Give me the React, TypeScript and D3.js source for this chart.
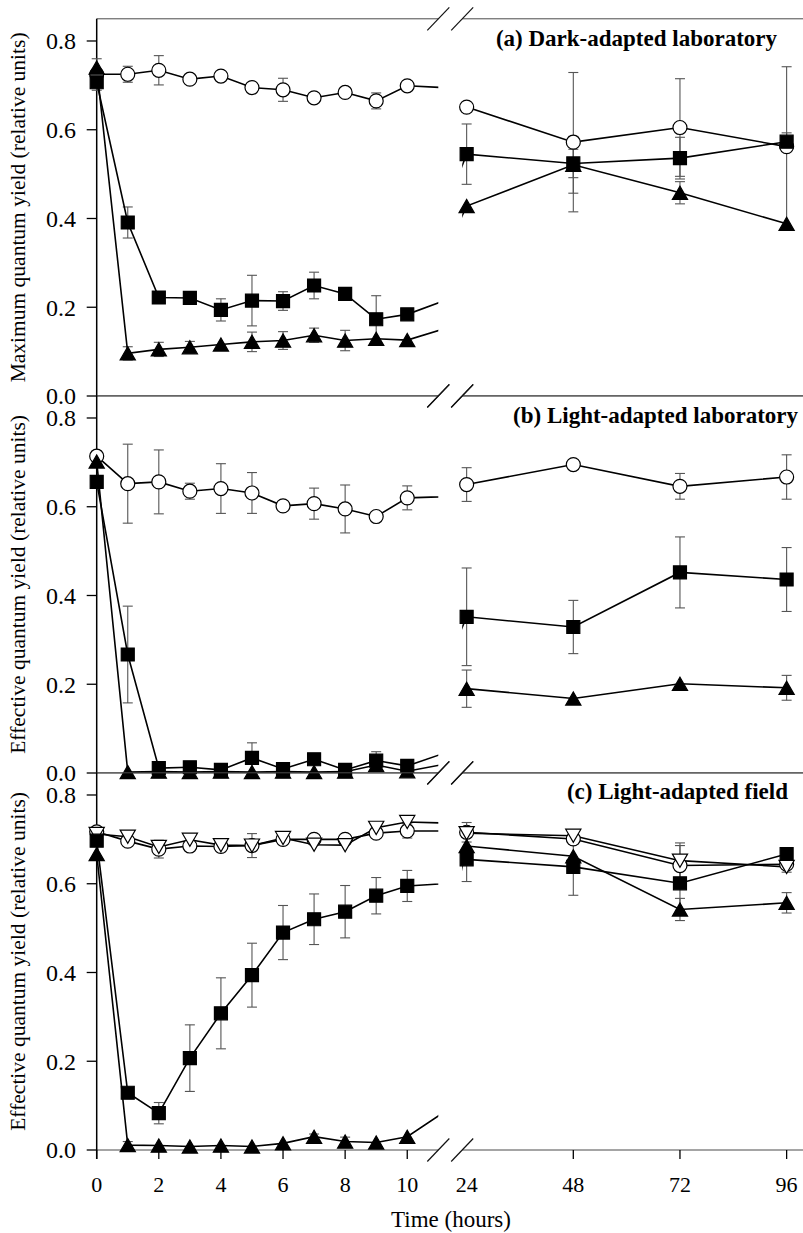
import React from 'react';
import * as d3 from 'd3';

// ---------- data ----------
const hours = [0, 1, 2, 3, 4, 5, 6, 7, 8, 9, 10, 24, 48, 72, 96];
const leftTicks = [0, 2, 4, 6, 8, 10];
const rightTicks = [24, 48, 72, 96];
const rightTickMarks = [48, 72, 96];
const yTicks = [0, 0.2, 0.4, 0.6, 0.8];

// Panel (a) Dark-adapted laboratory
const aCircle = [0.725, 0.725, 0.734, 0.714, 0.721, 0.695, 0.690, 0.672, 0.684, 0.665, 0.699, 0.651, 0.572, 0.605, 0.562];
const aCircleErr = [0.005, 0.018, 0.033, 0, 0, 0, 0.026, 0, 0, 0.018, 0, 0, 0.157, 0.11, 0.18];
const aSquare = [0.707, 0.391, 0.222, 0.221, 0.194, 0.215, 0.214, 0.249, 0.230, 0.173, 0.184, 0.545, 0.524, 0.536, 0.573];
const aSquareErr = [0.018, 0.035, 0, 0, 0.025, 0.057, 0.021, 0.030, 0, 0.053, 0, 0.068, 0.032, 0.047, 0.02];
const aTriangle = [0.740, 0.096, 0.105, 0.110, 0.116, 0.122, 0.125, 0.137, 0.125, 0.129, 0.126, 0.428, 0.521, 0.458, 0.388];
const aTriangleErr = [0.02, 0.015, 0.016, 0.013, 0, 0.022, 0.020, 0.016, 0.023, 0, 0, 0, 0.064, 0.025, 0];

// Panel (b) Light-adapted laboratory
const bCircle = [0.714, 0.652, 0.656, 0.635, 0.641, 0.631, 0.602, 0.607, 0.595, 0.578, 0.620, 0.650, 0.695, 0.646, 0.667];
const bCircleErr = [0.012, 0.089, 0.072, 0.018, 0.056, 0.046, 0, 0.035, 0.054, 0, 0.027, 0.038, 0, 0.029, 0.050];
const bSquare = [0.656, 0.267, 0.011, 0.013, 0.007, 0.034, 0.009, 0.031, 0.007, 0.028, 0.016, 0.352, 0.329, 0.452, 0.436];
const bSquareErr = [0, 0.109, 0, 0, 0, 0.034, 0, 0, 0, 0.02, 0, 0.110, 0.060, 0.080, 0.072];
const bTriangle = [0.702, 0.002, 0.003, 0.002, 0.003, 0.002, 0.003, 0.002, 0.003, 0.018, 0.004, 0.190, 0.168, 0.201, 0.192];
const bTriangleErr = [0, 0, 0, 0, 0, 0, 0, 0, 0, 0.01, 0, 0.042, 0, 0, 0.028];

// Panel (c) Light-adapted field
const cCircle = [0.717, 0.696, 0.678, 0.685, 0.684, 0.686, 0.700, 0.700, 0.700, 0.714, 0.719, 0.716, 0.701, 0.641, 0.644];
const cCircleErr = [0, 0, 0.02, 0, 0.012, 0.027, 0.012, 0, 0, 0, 0.016, 0.022, 0.012, 0.045, 0];
const cDown = [0.712, 0.706, 0.683, 0.699, 0.687, 0.686, 0.703, 0.688, 0.687, 0.726, 0.739, 0.714, 0.708, 0.652, 0.638];
const cDownErr = [0, 0.012, 0, 0.012, 0, 0, 0, 0, 0, 0.01, 0.01, 0, 0.01, 0.04, 0.012];
const cSquare = [0.697, 0.129, 0.083, 0.207, 0.308, 0.394, 0.490, 0.520, 0.537, 0.573, 0.595, 0.655, 0.638, 0.601, 0.667];
const cSquareErr = [0, 0, 0.024, 0.075, 0.080, 0.072, 0.061, 0.057, 0.059, 0.041, 0.035, 0.050, 0.064, 0.061, 0];
const cTriangle = [0.667, 0.011, 0.010, 0.008, 0.010, 0.008, 0.015, 0.030, 0.019, 0.017, 0.030, 0.685, 0.662, 0.542, 0.557];
const cTriangleErr = [0, 0.008, 0, 0, 0, 0, 0, 0.006, 0.01, 0, 0, 0, 0, 0.025, 0.023];

const panelTitles = ['(a) Dark-adapted laboratory', '(b) Light-adapted laboratory', '(c) Light-adapted field'];
const yLabels = [
  'Maximum quantum yield (relative units)',
  'Effective quantum yield (relative units)',
  'Effective quantum yield (relative units)',
];

type Marker = 'circle' | 'down' | 'square' | 'triangle';
type Series = { marker: Marker; values: number[]; errs: number[] };

const panels: Series[][] = [
  [
    { marker: 'circle', values: aCircle, errs: aCircleErr },
    { marker: 'square', values: aSquare, errs: aSquareErr },
    { marker: 'triangle', values: aTriangle, errs: aTriangleErr },
  ],
  [
    { marker: 'circle', values: bCircle, errs: bCircleErr },
    { marker: 'square', values: bSquare, errs: bSquareErr },
    { marker: 'triangle', values: bTriangle, errs: bTriangleErr },
  ],
  [
    { marker: 'circle', values: cCircle, errs: cCircleErr },
    { marker: 'down', values: cDown, errs: cDownErr },
    { marker: 'square', values: cSquare, errs: cSquareErr },
    { marker: 'triangle', values: cTriangle, errs: cTriangleErr },
  ],
];

// ---------- layout ----------
const W = 803;
const H = 1233;
const axisX = 96.7;
const leftX = d3.scaleLinear().domain([0, 11]).range([axisX, 438.3]);
const rightX = d3.scaleLinear().domain([23, 100]).range([462.2, 804.4]);
const panelTop0 = 18.8;
const panelStep = 377;
const panelH = 377.2;
const titlePos = [
  { x: 777, y: 45.5 },
  { x: 798, y: 423.3 },
  { x: 788, y: 799.3 },
];
const FONT = '"Liberation Serif", "Times New Roman", Times, serif';
const GRID = '#4a4a4a';
const ERR = '#555';

function markerPath(m: Marker): string {
  if (m === 'circle') {
    return d3.symbol().type(d3.symbolCircle).size(Math.PI * 49)()!;
  }
  if (m === 'square') {
    return d3.symbol().type(d3.symbolSquare).size(169)()!;
  }
  const hw = 7.6;
  const hh = 6.6;
  if (m === 'triangle') {
    return `M${-hw},${hh}L${hw},${hh}L0,${-hh}Z`;
  }
  return `M${-hw},${-hh}L${hw},${-hh}L0,${hh}Z`;
}

function Panel({ idx }: { idx: number }) {
  const top = panelTop0 + idx * panelStep;
  const bottom = top + panelH;
  const y = d3.scaleLinear().domain([0, 0.85]).range([bottom, top]);
  const series = panels[idx];
  const isLast = idx === panels.length - 1;
  const clipL = `clipL${idx}`;
  const clipR = `clipR${idx}`;
  const lineL = d3.line<number>().x((_, i) => leftX(hours[i])).y((v) => y(v));
  const lineR = d3.line<number>().x((_, i) => rightX(hours[i])).y((v) => y(v));
  const segs = [
    { sx: leftX, clip: clipL, line: lineL, inSeg: (h: number) => h <= 11 },
    { sx: rightX, clip: clipR, line: lineR, inSeg: (h: number) => h >= 23 },
  ];
  const breakXs = [leftX(11), rightX(23)];
  const slash = (cx: number, cy: number) => (
    <line x1={cx - 11} y1={cy + 11.5} x2={cx + 11} y2={cy - 11.5} stroke="#111" strokeWidth={1.2} />
  );

  return (
    <g>
      <defs>
        <clipPath id={clipL}>
          <rect x={axisX - 10} y={top - 20} width={leftX(11) - axisX + 10} height={panelH + 40} />
        </clipPath>
        <clipPath id={clipR}>
          <rect x={rightX(23)} y={top - 20} width={W - rightX(23)} height={panelH + 40} />
        </clipPath>
      </defs>

      {/* frame lines */}
      {[top, bottom].map((yy, k) => (
        <g key={k}>
          <line x1={axisX} x2={leftX(11)} y1={yy} y2={yy} stroke={GRID} strokeWidth={1} />
          <line x1={rightX(23)} x2={W} y1={yy} y2={yy} stroke={GRID} strokeWidth={1} />
          {breakXs.map((bx, j) => (
            <g key={j}>{slash(bx, yy)}</g>
          ))}
        </g>
      ))}

      {/* y axis */}
      <line x1={axisX} x2={axisX} y1={top} y2={isLast ? bottom + 9 : bottom} stroke="#000" strokeWidth={1.5} />
      {yTicks.map((t) => (
        <g key={t}>
          <line x1={axisX - 10} x2={axisX} y1={y(t)} y2={y(t)} stroke="#000" strokeWidth={1.3} />
          <text x={76} y={y(t)} dy="0.35em" textAnchor="end" fontFamily={FONT} fontSize={24} fill="#000">
            {t.toFixed(1)}
          </text>
        </g>
      ))}
      <text
        transform={`translate(25,${(top + bottom) / 2}) rotate(-90)`}
        textAnchor="middle"
        fontFamily={FONT}
        fontSize={21.5}
        fill="#000"
      >
        {yLabels[idx]}
      </text>

      {/* title */}
      <text x={titlePos[idx].x} y={titlePos[idx].y} textAnchor="end" fontFamily={FONT} fontSize={23} fontWeight="bold" fill="#000">
        {panelTitles[idx]}
      </text>

      {/* data */}
      {segs.map((seg, si) => (
        <g key={si}>
          {series.map((s, k) => (
            <g key={`e${k}`}>
              {s.values.map((v, i) =>
                seg.inSeg(hours[i]) && s.errs[i] > 0 ? (
                  <g key={i} stroke={ERR} strokeWidth={1.1}>
                    <line x1={seg.sx(hours[i])} x2={seg.sx(hours[i])} y1={y(v - s.errs[i])} y2={y(v + s.errs[i])} />
                    <line x1={seg.sx(hours[i]) - 5} x2={seg.sx(hours[i]) + 5} y1={y(v - s.errs[i])} y2={y(v - s.errs[i])} />
                    <line x1={seg.sx(hours[i]) - 5} x2={seg.sx(hours[i]) + 5} y1={y(v + s.errs[i])} y2={y(v + s.errs[i])} />
                  </g>
                ) : null
              )}
            </g>
          ))}
          <g clipPath={`url(#${seg.clip})`}>
            {series.map((s, k) => (
              <path key={`l${k}`} d={seg.line(s.values) || ''} fill="none" stroke="#000" strokeWidth={1.6} />
            ))}
          </g>
          {series.map((s, k) => (
            <g key={`m${k}`}>
              {s.values.map((v, i) =>
                seg.inSeg(hours[i]) ? (
                  <path
                    key={i}
                    d={markerPath(s.marker)}
                    transform={`translate(${seg.sx(hours[i])},${y(v)})`}
                    fill={s.marker === 'circle' || s.marker === 'down' ? '#fff' : '#000'}
                    stroke="#000"
                    strokeWidth={1.2}
                  />
                ) : null
              )}
            </g>
          ))}
        </g>
      ))}

      {/* x axis ticks and labels on last panel */}
      {isLast && (
        <g>
          {leftTicks.map((t) => (
            <g key={t}>
              <line x1={leftX(t)} x2={leftX(t)} y1={bottom} y2={bottom + 9} stroke="#000" strokeWidth={1.3} />
              <text x={leftX(t)} y={1192} textAnchor="middle" fontFamily={FONT} fontSize={22} fill="#000">
                {t}
              </text>
            </g>
          ))}
          {rightTickMarks.map((t) => (
            <line key={t} x1={rightX(t)} x2={rightX(t)} y1={bottom} y2={bottom + 9} stroke="#000" strokeWidth={1.3} />
          ))}
          {rightTicks.map((t) => (
            <text key={t} x={rightX(t)} y={1192} textAnchor="middle" fontFamily={FONT} fontSize={22} fill="#000">
              {t}
            </text>
          ))}
          <text x={451} y={1227} textAnchor="middle" fontFamily={FONT} fontSize={23} fill="#000">
            Time (hours)
          </text>
        </g>
      )}
    </g>
  );
}

export default function App() {
  return (
    <svg
      width={W}
      height={H}
      viewBox={`0 0 ${W} ${H}`}
      style={{ position: 'absolute', left: 0, top: 0, background: '#fff' }}
    >
      <rect x={0} y={0} width={W} height={H} fill="#fff" />
      {panels.map((_, i) => (
        <Panel key={i} idx={i} />
      ))}
    </svg>
  );
}
